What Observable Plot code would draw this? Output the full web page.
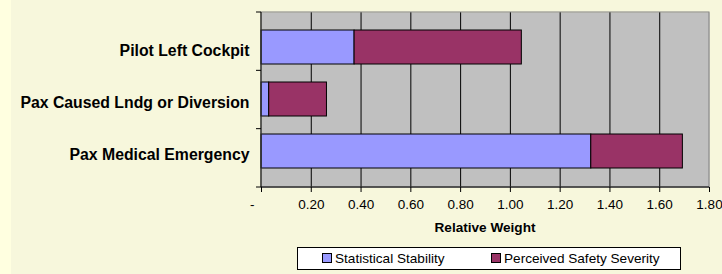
<!DOCTYPE html>
<html>
<head>
<meta charset="utf-8">
<script src="https://cdn.jsdelivr.net/npm/d3@7"></script>
<script src="https://cdn.jsdelivr.net/npm/@observablehq/plot@0.6"></script>
<style>
  html, body { margin: 0; padding: 0; }
  body { width: 722px; height: 274px; background: #F7F7DC; font-family: "Liberation Sans", Arial, sans-serif; overflow: hidden; }
  #wrap { position: relative; width: 722px; height: 274px; }
  #strip { position: absolute; left: 0; top: 0; width: 11px; height: 274px; background: #FFFFE0; }
  #chart { position: absolute; left: 0; top: 0; }
  #xlabel { position: absolute; left: 261px; width: 448px; top: 220px; text-align: center; font-weight: bold; font-size: 13.6px; color: #000; }
  #legend { position: absolute; left: 297px; top: 247px; width: 382px; height: 21px; background: #fff; border: 1px solid #000; font-size: 13.6px; }
  .item { position: absolute; top: 3px; white-space: nowrap; line-height: 15px; }
  .sw { display: inline-block; width: 8px; height: 8px; border: 1px solid #000; margin-right: 3px; vertical-align: 0px; }
</style>
</head>
<body>
<div id="wrap">
  <div id="strip"></div>
  <div id="chart"></div>
  <div id="xlabel"></div>
  <div id="legend"></div>
</div>
<script>
const categories = ["Pilot Left Cockpit", "Pax Caused Lndg or Diversion", "Pax Medical Emergency"];
const statisticalStability = [0.374, 0.031, 1.325];
const perceivedSafetySeverity = [0.672, 0.232, 0.368];
const seriesNames = ["Statistical Stability", "Perceived Safety Severity"];
const seriesColors = ["#9999FF", "#993366"];
const xTicks = [0, 0.2, 0.4, 0.6, 0.8, 1.0, 1.2, 1.4, 1.6, 1.8];
const xTitle = "Relative Weight";

const rows = [];
categories.forEach((c, i) => {
  rows.push({category: c, series: seriesNames[0], value: statisticalStability[i]});
  rows.push({category: c, series: seriesNames[1], value: perceivedSafetySeverity[i]});
});

const fmt = v => v === 0 ? "-\u00A0\u00A0\u00A0\u00A0\u00A0" : v.toFixed(2);

function axisLines(index, scales, values, dim) {
  const g = d3.create("svg:g");
  const x0 = dim.marginLeft, x1 = dim.width - dim.marginRight;
  const y0 = dim.marginTop, y1 = dim.height - dim.marginBottom;
  g.append("rect").attr("x", x0).attr("y", y0).attr("width", x1 - x0).attr("height", y1 - y0)
    .attr("fill", "none").attr("stroke", "#808080");
  g.append("line").attr("x1", x0).attr("x2", x0).attr("y1", y0).attr("y2", y1).attr("stroke", "#000");
  g.append("line").attr("x1", x0).attr("x2", x1).attr("y1", y1).attr("y2", y1).attr("stroke", "#000");
  const n = categories.length;
  for (let i = 0; i <= n; i++) {
    const y = y0 + (y1 - y0) * i / n;
    g.append("line").attr("x1", x0 - 5).attr("x2", x0).attr("y1", y).attr("y2", y).attr("stroke", "#000");
  }
  return g.node();
}

const chart = Plot.plot({
  width: 722,
  height: 240,
  marginLeft: 261,
  marginRight: 13,
  marginTop: 12,
  marginBottom: 53,
  style: {fontFamily: "'Liberation Sans', Arial, sans-serif", background: "transparent", color: "#000"},
  x: {domain: [0, 1.8], ticks: xTicks, label: null},
  y: {domain: categories, padding: 0.34, label: null},
  color: {domain: seriesNames, range: seriesColors},
  marks: [
    Plot.frame({fill: "#C0C0C0", stroke: null}),
    Plot.ruleX(xTicks.filter(t => t > 0 && t < 1.8), {stroke: "#000", strokeWidth: 1, strokeOpacity: 1}),
    Plot.barX(rows, Plot.stackX({x: "value", y: "category", fill: "series", stroke: "#000", strokeWidth: 1, inset: 0})),
    axisLines,
    Plot.axisX({ticks: xTicks, tickSize: 5, tickPadding: 7, tickFormat: fmt, fontSize: 13.5, label: null}),
    Plot.axisY({tickSize: 0, tickPadding: 12, fontSize: 15.8, fontWeight: "bold", dy: 3, label: null})
  ]
});
document.getElementById("chart").appendChild(chart);
document.getElementById("xlabel").textContent = xTitle;

const legend = document.getElementById("legend");
const lefts = [24, 193];
seriesNames.forEach((s, i) => {
  const it = document.createElement("div");
  it.className = "item";
  it.style.left = lefts[i] + "px";
  const sw = document.createElement("span");
  sw.className = "sw";
  sw.style.background = seriesColors[i];
  it.appendChild(sw);
  it.appendChild(document.createTextNode(s));
  legend.appendChild(it);
});
</script>
</body>
</html>
